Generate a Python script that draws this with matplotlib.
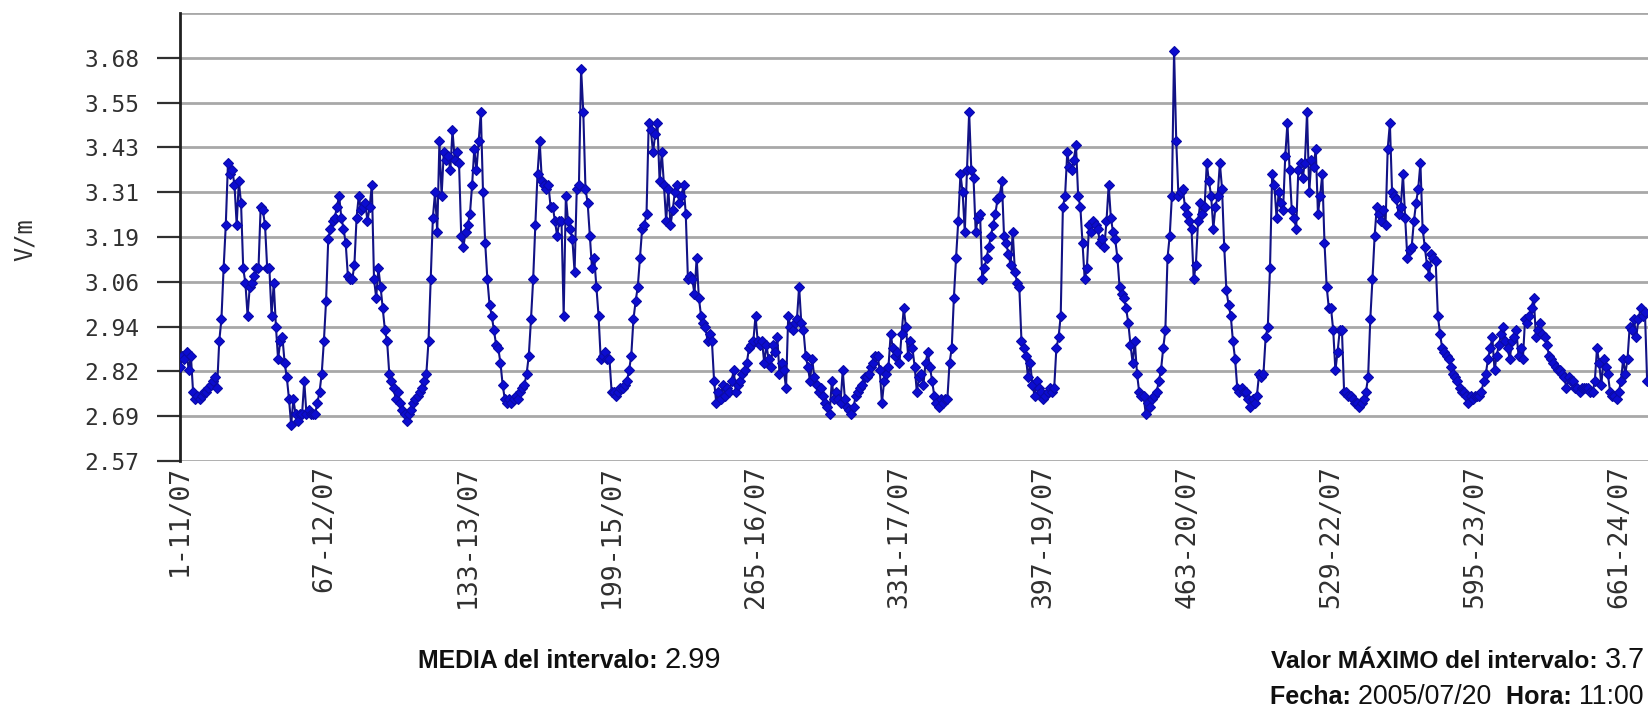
import matplotlib
matplotlib.use("Agg")
import matplotlib.pyplot as plt
import numpy as np

# ---------------------------------------------------------------
# data (V/m, one value per sample)
# ---------------------------------------------------------------
values = [
    2.83, 2.86, 2.85, 2.87, 2.82, 2.86, 2.76, 2.74, 2.75, 2.74,
    2.75, 2.76, 2.76, 2.77, 2.78, 2.79, 2.80, 2.77, 2.90, 2.96,
    3.10, 3.22, 3.39, 3.36, 3.37, 3.33, 3.22, 3.34, 3.28, 3.10,
    3.06, 2.97, 3.05, 3.06, 3.08, 3.10, 3.10, 3.27, 3.26, 3.22,
    3.10, 3.10, 2.97, 3.06, 2.94, 2.85, 2.90, 2.91, 2.84, 2.80,
    2.74, 2.67, 2.74, 2.70, 2.68, 2.70, 2.70, 2.79, 2.70, 2.71,
    2.70, 2.70, 2.70, 2.73, 2.76, 2.81, 2.90, 3.01, 3.18, 3.21,
    3.23, 3.24, 3.27, 3.30, 3.24, 3.21, 3.17, 3.08, 3.07, 3.07,
    3.11, 3.24, 3.30, 3.26, 3.27, 3.28, 3.23, 3.27, 3.33, 3.07,
    3.02, 3.10, 3.05, 2.99, 2.93, 2.90, 2.81, 2.79, 2.77, 2.74,
    2.76, 2.73, 2.71, 2.70, 2.68, 2.70, 2.71, 2.73, 2.74, 2.75,
    2.76, 2.77, 2.79, 2.81, 2.90, 3.07, 3.24, 3.31, 3.20, 3.45,
    3.30, 3.42, 3.40, 3.41, 3.37, 3.48, 3.40, 3.42, 3.39, 3.19,
    3.16, 3.20, 3.22, 3.25, 3.33, 3.43, 3.37, 3.45, 3.53, 3.31,
    3.17, 3.07, 3.00, 2.97, 2.93, 2.89, 2.88, 2.84, 2.78, 2.74,
    2.73, 2.74, 2.73, 2.74, 2.75, 2.74, 2.76, 2.77, 2.78, 2.81,
    2.86, 2.96, 3.07, 3.22, 3.36, 3.45, 3.34, 3.33, 3.32, 3.33,
    3.27, 3.27, 3.23, 3.19, 3.23, 3.23, 2.97, 3.30, 3.23, 3.21,
    3.18, 3.09, 3.32, 3.33, 3.65, 3.53, 3.32, 3.28, 3.19, 3.10,
    3.13, 3.05, 2.97, 2.85, 2.86, 2.87, 2.85, 2.85, 2.76, 2.76,
    2.75, 2.76, 2.77, 2.77, 2.78, 2.79, 2.82, 2.86, 2.96, 3.01,
    3.05, 3.13, 3.21, 3.22, 3.25, 3.50, 3.48, 3.42, 3.47, 3.50,
    3.34, 3.42, 3.33, 3.23, 3.32, 3.22, 3.26, 3.31, 3.33, 3.28,
    3.30, 3.33, 3.25, 3.07, 3.08, 3.07, 3.03, 3.13, 3.02, 2.97,
    2.95, 2.94, 2.90, 2.92, 2.90, 2.79, 2.73, 2.76, 2.74, 2.78,
    2.75, 2.77, 2.76, 2.79, 2.82, 2.76, 2.78, 2.79, 2.81, 2.82,
    2.84, 2.88, 2.89, 2.90, 2.97, 2.90, 2.89, 2.90, 2.84, 2.89,
    2.85, 2.83, 2.89, 2.87, 2.91, 2.81, 2.84, 2.82, 2.77, 2.97,
    2.94, 2.93, 2.95, 2.96, 3.05, 2.95, 2.93, 2.86, 2.83, 2.79,
    2.85, 2.80, 2.78, 2.76, 2.77, 2.75, 2.73, 2.72, 2.70, 2.79,
    2.74, 2.76, 2.74, 2.73, 2.82, 2.74, 2.72, 2.71, 2.70, 2.72,
    2.75, 2.76, 2.77, 2.78, 2.80, 2.80, 2.81, 2.83, 2.84, 2.86,
    2.86, 2.82, 2.73, 2.79, 2.81, 2.83, 2.92, 2.88, 2.86, 2.87,
    2.84, 2.92, 2.99, 2.94, 2.86, 2.90, 2.88, 2.83, 2.76, 2.80,
    2.81, 2.78, 2.84, 2.87, 2.83, 2.79, 2.75, 2.73, 2.72, 2.74,
    2.73, 2.74, 2.74, 2.84, 2.88, 3.02, 3.13, 3.23, 3.36, 3.31,
    3.20, 3.37, 3.53, 3.37, 3.35, 3.20, 3.24, 3.25, 3.07, 3.10,
    3.13, 3.16, 3.19, 3.22, 3.25, 3.29, 3.30, 3.34, 3.19, 3.17,
    3.14, 3.11, 3.20, 3.09, 3.06, 3.05, 2.90, 2.88, 2.86, 2.80,
    2.84, 2.78, 2.75, 2.79, 2.77, 2.76, 2.74, 2.75, 2.76, 2.77,
    2.76, 2.77, 2.88, 2.91, 2.97, 3.27, 3.30, 3.42, 3.38, 3.37,
    3.40, 3.44, 3.30, 3.27, 3.17, 3.07, 3.10, 3.22, 3.20, 3.23,
    3.22, 3.21, 3.17, 3.18, 3.16, 3.23, 3.33, 3.24, 3.20, 3.18,
    3.13, 3.05, 3.03, 3.02, 2.99, 2.95, 2.89, 2.84, 2.90, 2.81,
    2.76, 2.75, 2.75, 2.70, 2.73, 2.72, 2.74, 2.75, 2.76, 2.79,
    2.82, 2.88, 2.93, 3.13, 3.19, 3.30, 3.70, 3.45, 3.30, 3.31,
    3.32, 3.27, 3.25, 3.23, 3.21, 3.07, 3.11, 3.23, 3.28, 3.25,
    3.27, 3.39, 3.34, 3.30, 3.21, 3.27, 3.30, 3.39, 3.32, 3.16,
    3.04, 3.00, 2.97, 2.90, 2.85, 2.77, 2.76, 2.77, 2.76, 2.76,
    2.74, 2.72, 2.74, 2.73, 2.75, 2.81, 2.80, 2.81, 2.91, 2.94,
    3.10, 3.36, 3.33, 3.24, 3.31, 3.28, 3.26, 3.41, 3.50, 3.37,
    3.26, 3.24, 3.21, 3.37, 3.39, 3.35, 3.39, 3.53, 3.31, 3.40,
    3.38, 3.43, 3.25, 3.30, 3.36, 3.17, 3.05, 2.99, 2.99, 2.93,
    2.82, 2.87, 2.93, 2.93, 2.76, 2.76, 2.75, 2.75, 2.74, 2.73,
    2.73, 2.72, 2.73, 2.74, 2.76, 2.80, 2.96, 3.07, 3.19, 3.27,
    3.25, 3.23, 3.26, 3.22, 3.43, 3.50, 3.31, 3.30, 3.29, 3.25,
    3.27, 3.36, 3.24, 3.13, 3.15, 3.16, 3.23, 3.28, 3.32, 3.39,
    3.21, 3.16, 3.11, 3.08, 3.14, 3.13, 3.12, 2.97, 2.92, 2.88,
    2.87, 2.86, 2.85, 2.83, 2.81, 2.80, 2.79, 2.77, 2.76, 2.76,
    2.75, 2.73, 2.75, 2.74, 2.75, 2.75, 2.75, 2.76, 2.79, 2.81,
    2.85, 2.88, 2.91, 2.82, 2.86, 2.89, 2.92, 2.94, 2.90, 2.88,
    2.85, 2.90, 2.91, 2.93, 2.86, 2.88, 2.85, 2.96, 2.95, 2.97,
    2.99, 3.02, 2.91, 2.93, 2.95, 2.92, 2.91, 2.89, 2.86, 2.85,
    2.84, 2.83, 2.82, 2.82, 2.81, 2.80, 2.77, 2.80, 2.79, 2.79,
    2.77, 2.77, 2.76, 2.77, 2.77, 2.77, 2.77, 2.76, 2.76, 2.79,
    2.88, 2.84, 2.78, 2.85, 2.83, 2.81, 2.76, 2.75, 2.75, 2.74,
    2.76, 2.79, 2.85, 2.81, 2.85, 2.94, 2.93, 2.96, 2.91, 2.96,
    2.99, 2.97, 2.98, 2.79,
]
x_ticks = [1, 67, 133, 199, 265, 331, 397, 463, 529, 595, 661]
x_labels = ["1-11/07", "67-12/07", "133-13/07", "199-15/07", "265-16/07",
            "331-17/07", "397-19/07", "463-20/07", "529-22/07", "595-23/07",
            "661-24/07"]
y_labels = ["2.57", "2.69", "2.82", "2.94", "3.06", "3.19", "3.31", "3.43",
            "3.55", "3.68"]
media = "2.99"
maximo = "3.7"
fecha = "2005/07/20"
hora = "11:00"

# ---------------------------------------------------------------
# figure
# ---------------------------------------------------------------
W, H = 1648, 707
fig = plt.figure(figsize=(W / 100, H / 100), dpi=100)
fig.patch.set_facecolor("white")
ax = fig.add_axes([180 / W, 1 - 461 / H, 1 - 180 / W, (461 - 13) / H])

mono = "DejaVu Sans Mono"
sans = "Liberation Sans"

n = np.arange(1, len(values) + 1)
ax.plot(n, values, color="#121285", lw=1.5, marker="D", ms=5.2,
        mfc="#0c0cd0", mec="#0a0aa8", mew=0.8, zorder=3)

step = (3.68 - 2.57) / 9
ypos = [2.57 + k * step for k in range(len(y_labels))]
ax.set_ylim(2.57, 2.57 + 10 * step)
ax.set_xlim(1, 674.4)
ax.set_yticks(ypos, y_labels, fontfamily=mono, fontsize=16.5)
ax.set_xticks(x_ticks, x_labels, rotation=90, va="top", ha="center",
              fontfamily=mono, fontsize=19)

# horizontal grid incl. top line
for y in ypos + [2.57 + 10 * step]:
    ax.axhline(y, color="#a8a8a8", lw=2, zorder=1)

for s in ["top", "right", "bottom"]:
    ax.spines[s].set_visible(False)
ax.spines["left"].set_linewidth(2)
ax.spines["left"].set_color("#202020")
ax.tick_params(axis="y", length=16.5, width=1.6, pad=13, colors="#303030")
ax.tick_params(axis="x", length=0, pad=3, colors="#303030")

fig.text(25 / W, 1 - 240 / H, "V/m", rotation=90, ha="center", va="center",
         fontfamily=mono, fontsize=17, color="#303030")


# bold / regular pieces of a summary line, fitted between x0 and x1 (pixels)
def line_of_parts(x0, x1, y0, parts):
    r = fig.canvas.get_renderer()
    texts = [fig.text(0, 0, txt, ha="left", va="baseline", fontfamily=sans,
                      fontsize=size, color="#101010",
                      fontweight="bold" if bold else "normal")
             for txt, bold, size in parts]
    total = sum(t.get_window_extent(r).width for t in texts)
    k = (x1 - x0) / total
    x = x0
    for t in texts:
        t.set_fontsize(t.get_fontsize() * k)
        t.set_position((x / W, 1 - y0 / H))
        x += t.get_window_extent(r).width


line_of_parts(418, 721, 668, [("MEDIA del intervalo: ", True, 17), (media, False, 20)])
line_of_parts(1271, 1645, 668, [("Valor MÁXIMO del intervalo: ", True, 17), (maximo, False, 20)])
line_of_parts(1270, 1645, 704, [("Fecha: ", True, 16), (fecha + "  ", False, 17),
                                ("Hora: ", True, 16), (hora, False, 17)])

plt.savefig("out.png", dpi=100)
